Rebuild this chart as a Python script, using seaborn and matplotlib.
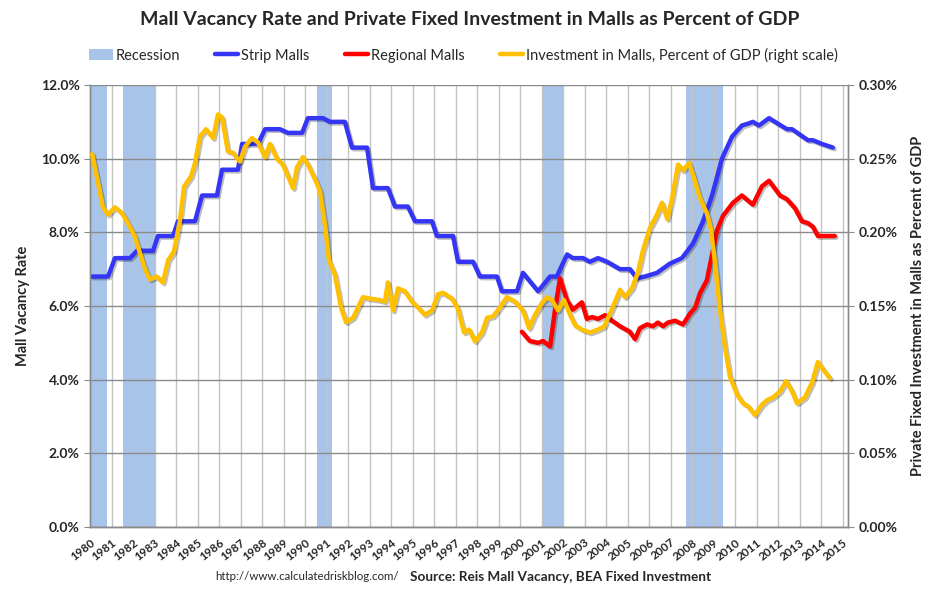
import matplotlib
matplotlib.use("Agg")
import matplotlib.pyplot as plt
import matplotlib.patheffects as pe
from matplotlib.patches import Patch
from matplotlib.lines import Line2D
from matplotlib.ticker import FuncFormatter, MultipleLocator
import seaborn as sns

# recession bands (start, end) in fractional years, as drawn on the chart
recessions = [(1980.0, 1980.8), (1981.53, 1983.05), (1990.55, 1991.25),
              (2001.0, 2002.0), (2007.7, 2009.45)]

# strip mall vacancy rate (%), corners of the step line
strip_year = [1980.09, 1980.84, 1981.16, 1981.86, 1982.19, 1982.93, 1983.16, 1983.86,
              1984.09, 1984.88, 1985.21, 1985.90, 1986.14, 1986.88, 1987.07, 1987.81,
              1988.14, 1988.83, 1989.20, 1989.86, 1990.13, 1990.83, 1991.16, 1991.85,
              1992.18, 1992.88, 1993.16, 1993.85, 1994.18, 1994.78, 1995.11, 1995.90,
              1996.13, 1996.88, 1997.11, 1997.81, 1998.13, 1998.92, 1999.15, 1999.85,
              2000.13, 2000.83, 2001.39, 2001.70, 2002.18, 2002.45, 2002.92, 2003.24, 2003.62,
              2004.04, 2004.64, 2005.10, 2005.43, 2005.80, 2006.36, 2006.96, 2007.52,
              2008.04, 2008.50, 2008.92, 2009.38, 2009.85, 2010.31, 2010.59, 2010.82,
              2011.10, 2011.57, 2011.98, 2012.40, 2012.64, 2013.01, 2013.38, 2013.61,
              2014.03, 2014.54]
strip_rate = [6.8, 6.8, 7.3, 7.3, 7.5, 7.5, 7.9, 7.9,
              8.3, 8.3, 9.0, 9.0, 9.7, 9.7, 10.4, 10.4,
              10.8, 10.8, 10.7, 10.7, 11.1, 11.1, 11.0, 11.0,
              10.3, 10.3, 9.2, 9.2, 8.7, 8.7, 8.3, 8.3,
              7.9, 7.9, 7.2, 7.2, 6.8, 6.8, 6.4, 6.4,
              6.9, 6.4, 6.8, 6.8, 7.4, 7.3, 7.3, 7.2, 7.3,
              7.2, 7.0, 7.0, 6.75, 6.8, 6.9, 7.15, 7.3,
              7.7, 8.3, 9.0, 10.0, 10.6, 10.9, 10.95, 11.0,
              10.9, 11.1, 10.95, 10.8, 10.8, 10.65, 10.5, 10.5,
              10.4, 10.3]

# regional mall vacancy rate (%)
reg_year = [2000.08, 2000.45, 2000.83, 2001.06, 2001.39, 2001.62, 2001.85, 2002.18,
            2002.45, 2002.87, 2003.10, 2003.34, 2003.62, 2003.94, 2004.27, 2004.64,
            2005.10, 2005.34, 2005.57, 2005.90, 2006.17, 2006.40, 2006.64, 2006.87,
            2007.20, 2007.57, 2007.90, 2008.13, 2008.36, 2008.68, 2008.87, 2009.15,
            2009.43, 2009.89, 2010.31, 2010.82, 2011.24, 2011.57, 2012.08, 2012.40,
            2012.78, 2013.10, 2013.38, 2013.61, 2013.84, 2014.63]
reg_rate = [5.3, 5.05, 5.0, 5.05, 4.9, 5.9, 6.75, 6.15,
            5.9, 6.1, 5.65, 5.7, 5.65, 5.75, 5.6, 5.45,
            5.3, 5.1, 5.4, 5.5, 5.45, 5.55, 5.45, 5.55,
            5.6, 5.5, 5.8, 5.95, 6.35, 6.7, 7.25, 8.05,
            8.45, 8.8, 9.0, 8.75, 9.25, 9.4, 9.0, 8.9,
            8.65, 8.3, 8.25, 8.15, 7.9, 7.9]

# investment in malls, percent of GDP (right scale)
inv_year = [1980.10, 1980.37, 1980.60, 1980.84, 1981.16, 1981.49, 1981.77, 1982.09, 1982.32, 1982.56,
            1982.79, 1983.11, 1983.39, 1983.63, 1983.90, 1984.18, 1984.37, 1984.70, 1984.88, 1985.11,
            1985.39, 1985.72, 1985.95, 1986.14, 1986.41, 1986.65, 1986.97, 1987.20, 1987.53, 1987.81,
            1988.14, 1988.37, 1988.69, 1988.97, 1989.44, 1989.62, 1989.90, 1990.13, 1990.46, 1990.69,
            1990.93, 1991.11, 1991.39, 1991.67, 1991.90, 1992.23, 1992.46, 1992.69, 1993.02, 1993.48,
            1993.71, 1993.85, 1994.09, 1994.32, 1994.64, 1994.97, 1995.25, 1995.57, 1995.90, 1996.18,
            1996.41, 1996.83, 1997.11, 1997.39, 1997.62, 1997.90, 1998.22, 1998.46, 1998.74, 1999.06,
            1999.38, 1999.76, 2000.13, 2000.41, 2000.69, 2001.01, 2001.25, 2001.48, 2001.76, 2002.04,
            2002.32, 2002.55, 2002.87, 2003.24, 2003.62, 2003.90, 2004.18, 2004.41, 2004.64, 2004.87,
            2005.20, 2005.48, 2005.71, 2006.03, 2006.36, 2006.59, 2006.84, 2007.06, 2007.34, 2007.57,
            2007.85, 2008.08, 2008.36, 2008.68, 2008.87, 2009.06, 2009.29, 2009.52, 2009.75, 2010.08,
            2010.36, 2010.59, 2010.91, 2011.24, 2011.47, 2011.75, 2012.08, 2012.36, 2012.64, 2012.87,
            2013.24, 2013.57, 2013.84, 2014.08, 2014.40]
inv_pct = [0.253, 0.234, 0.217, 0.212, 0.217, 0.213, 0.206, 0.197, 0.186, 0.175,
           0.168, 0.170, 0.166, 0.181, 0.187, 0.208, 0.231, 0.238, 0.247, 0.265,
           0.270, 0.264, 0.280, 0.278, 0.255, 0.254, 0.248, 0.258, 0.264, 0.261,
           0.251, 0.260, 0.250, 0.246, 0.230, 0.244, 0.251, 0.246, 0.236, 0.228,
           0.204, 0.181, 0.171, 0.149, 0.139, 0.142, 0.149, 0.156, 0.155, 0.154,
           0.153, 0.166, 0.147, 0.162, 0.160, 0.153, 0.149, 0.144, 0.147, 0.158,
           0.159, 0.155, 0.148, 0.132, 0.134, 0.126, 0.132, 0.142, 0.143, 0.149,
           0.156, 0.153, 0.147, 0.135, 0.144, 0.152, 0.156, 0.154, 0.147, 0.154,
           0.144, 0.137, 0.134, 0.132, 0.134, 0.136, 0.145, 0.153, 0.161, 0.156,
           0.162, 0.173, 0.188, 0.203, 0.212, 0.220, 0.209, 0.223, 0.246, 0.242,
           0.247, 0.237, 0.223, 0.213, 0.202, 0.179, 0.147, 0.122, 0.102, 0.090,
           0.084, 0.082, 0.076, 0.083, 0.086, 0.088, 0.092, 0.099, 0.092, 0.084,
           0.088, 0.098, 0.112, 0.107, 0.101]

year_ticks = list(range(1980, 2016))

BLUE = "#3535f5"
RED = "#ff0000"
GOLD = "#ffc000"
REC = "#a8c4e8"

sns.set_style("white")
plt.rcParams["font.family"] = ["Lato", "DejaVu Sans"]

fig = plt.figure(figsize=(9.4, 5.95), dpi=100)
ax = fig.add_axes([90 / 940, 1 - 527 / 595, 758 / 940, 442 / 595])
ax2 = ax.twinx()

for start, end in recessions:
    ax.axvspan(start, end, color=REC, zorder=0, lw=0)

shadow = [pe.SimpleLineShadow(offset=(1.2, -1.2), alpha=0.25), pe.Normal()]

sns.lineplot(x=strip_year, y=strip_rate, ax=ax, color=BLUE, linewidth=3.2,
             sort=False, estimator=None, path_effects=shadow, zorder=3)
sns.lineplot(x=reg_year, y=reg_rate, ax=ax, color=RED, linewidth=3.2,
             sort=False, estimator=None, path_effects=shadow, zorder=3)
sns.lineplot(x=inv_year, y=inv_pct, ax=ax2, color=GOLD, linewidth=3.2,
             sort=False, estimator=None, path_effects=shadow, zorder=3)

ax.set_xlim(1980, 2015.24)
ax.set_ylim(0, 12)
ax2.set_ylim(0, 0.30)

ax.yaxis.set_major_locator(MultipleLocator(2))
ax.yaxis.set_major_formatter(FuncFormatter(lambda v, p: f"{v:.1f}%"))
ax2.yaxis.set_major_locator(MultipleLocator(0.05))
ax2.yaxis.set_major_formatter(FuncFormatter(lambda v, p: f"{v:.2f}%"))

ax.set_xticks(year_ticks)
ax.set_xticklabels([str(y) for y in year_ticks], rotation=38, ha="right",
                   rotation_mode="anchor", fontsize=8.5, fontweight="bold")

ax.set_axisbelow(True)
ax.grid(axis="y", color="#8a8a8a", linewidth=1.0, zorder=0.5)
ax.grid(axis="x", color="#c4c4c4", linewidth=1.0, zorder=0.5)
ax2.grid(False)

for a in (ax, ax2):
    a.spines["top"].set_visible(False)
    for side in ("left", "right", "bottom"):
        a.spines[side].set_color("#8a8a8a")
        a.spines[side].set_linewidth(1.0)

ax.tick_params(axis="x", length=4, color="#8a8a8a", pad=3)
ax.tick_params(axis="y", length=4, color="#8a8a8a", labelsize=10)
ax2.tick_params(axis="y", length=4, color="#8a8a8a", labelsize=10)
for lab in ax.get_yticklabels() + ax2.get_yticklabels():
    lab.set_fontweight("bold")

ax.set_xlabel("")
ax.set_ylabel("Mall Vacancy Rate", fontsize=10.5, fontweight="bold", labelpad=8)
ax2.set_ylabel("Private Fixed Investment in Malls as Percent of GDP",
               fontsize=10.5, fontweight="bold", labelpad=10)

fig.text(0.5, 1 - 20 / 595, "Mall Vacancy Rate and Private Fixed Investment in Malls as Percent of GDP",
         ha="center", va="center", fontsize=14, fontweight="bold")

handles = [Patch(facecolor=REC, edgecolor="none"),
           Line2D([], [], color=BLUE, linewidth=3.2),
           Line2D([], [], color=RED, linewidth=3.2),
           Line2D([], [], color=GOLD, linewidth=3.2)]
labels = ["Recession", "Strip Malls", "Regional Malls",
          "Investment in Malls, Percent of GDP (right scale)"]
fig.legend(handles, labels, loc="center", bbox_to_anchor=(0.493, 1 - 55 / 595),
           ncol=4, frameon=False, fontsize=10.5, handlelength=1.6,
           handletextpad=0.2, columnspacing=2.4)

fig.text(215 / 940, 1 - 577 / 595, "http://www.calculatedriskblog.com/",
         ha="left", va="center", fontsize=8.3)
fig.text(410 / 940, 1 - 577 / 595, "Source: Reis Mall Vacancy, BEA Fixed Investment",
         ha="left", va="center", fontsize=9.8, fontweight="bold")

fig.savefig("out.png", dpi=100)
